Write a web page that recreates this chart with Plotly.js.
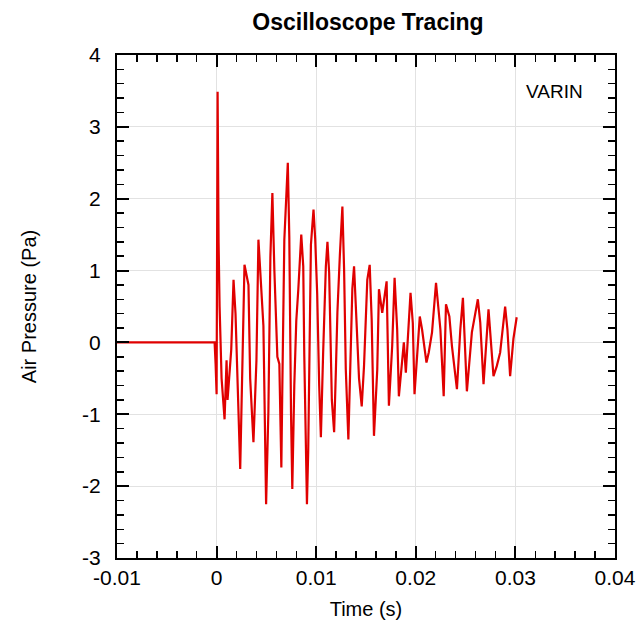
<!DOCTYPE html>
<html>
<head>
<meta charset="utf-8">
<script src="https://cdn.plot.ly/plotly-3.0.1.min.js"></script>
<style>html,body{margin:0;padding:0;background:#fff;}#chart{width:640px;height:632px;}</style>
</head>
<body>
<div id="chart"></div>
<script>
// Time (s)
const timeS = [-0.01, -0.0002, -0.0001, 0.0000, 0.0001, 0.00015, 0.0002, 0.0003, 0.0004, 0.0005,
  0.0008, 0.0010, 0.0011, 0.00147, 0.0017, 0.0019, 0.00237, 0.0028, 0.0032, 0.00337,
  0.0037, 0.0040, 0.0042, 0.0045, 0.0047, 0.00497, 0.0052, 0.0054, 0.0056, 0.0058,
  0.0060, 0.0061, 0.0063, 0.0065, 0.0066, 0.0068, 0.00715, 0.0073, 0.00747, 0.0076,
  0.0078, 0.0080, 0.0082, 0.0085, 0.0087, 0.0088, 0.00907, 0.0092, 0.00947, 0.00973,
  0.0099, 0.0101, 0.0103, 0.01047, 0.0107, 0.01097, 0.01113, 0.0113, 0.01157, 0.0118,
  0.01197, 0.01213, 0.01237, 0.01263, 0.0128, 0.01297, 0.01323, 0.01347, 0.01363, 0.0138,
  0.01403, 0.0143, 0.01457, 0.0148, 0.01513, 0.01537, 0.01557, 0.0158, 0.01613, 0.0163,
  0.01663, 0.01707, 0.0173, 0.01763, 0.01787, 0.01813, 0.0183, 0.01853, 0.0188, 0.0190,
  0.01947, 0.0197, 0.01987, 0.0204, 0.02063, 0.02107, 0.0213, 0.02163, 0.02203, 0.02247,
  0.0228, 0.02303, 0.02337, 0.02363, 0.02413, 0.02447, 0.02473, 0.02513, 0.02563, 0.02623,
  0.02647, 0.0268, 0.0273, 0.0278, 0.02813, 0.02847, 0.02897, 0.0292, 0.02947, 0.0298,
  0.03013];
// Air pressure (Pa)
const pressurePa = [0, 0, -0.3, -0.72, 3.49, 2.3, 1.39, 0.5, -0.03, -0.5,
  -1.07, -0.25, -0.8, -0.1, 0.87, 0.4, -1.76, 1.08, 0.8, -0.5,
  -1.39, -0.25, 1.43, 0.8, 0.23, -2.25, -0.96, 1.19, 2.08, 1.0,
  0.35, -0.2, -0.3, -1.74, -0.6, 1.43, 2.5, 1.46, -0.97, -2.04,
  -0.6, 0.3, 0.73, 1.5, 1.06, -0.16, -2.25, -1.5, 1.36, 1.85,
  1.44, 0.67, -0.6, -1.32, -0.13, 1.06, 1.4, 0.97, -0.8, -1.25,
  -0.42, 0.42, 1.2, 1.89, 1.02, -0.37, -1.35, -0.05, 0.75, 1.06,
  0.42, -0.5, -0.89, -0.33, 0.87, 1.08, 0.32, -1.3, -0.38, 0.74,
  0.41, 0.85, -0.88, -0.05, 0.9, 0.18, -0.75, -0.38, 0.0, -0.42,
  0.69, 0.27, -0.72, 0.36, 0.18, -0.28, -0.14, 0.14, 0.83, 0.18,
  -0.75, 0.53, 0.36, -0.05, -0.65, 0.18, 0.62, -0.68, 0.14, 0.6,
  0.28, -0.58, 0.46, -0.47, -0.33, -0.14, 0.5, 0.18, -0.47, 0.05,
  0.35];

const xTickVals = [-0.01, 0, 0.01, 0.02, 0.03, 0.04];
const xTickText = ["-0.01", "0", "0.01", "0.02", "0.03", "0.04"];
const yTickVals = [-3, -2, -1, 0, 1, 2, 3, 4];
const yTickText = ["-3", "-2", "-1", "0", "1", "2", "3", "4"];

const FONT = "Liberation Sans, Arial, Helvetica, sans-serif";

const trace = {
  x: timeS, y: pressurePa, type: "scatter", mode: "lines",
  line: {color: "#e00000", width: 2.2},
  hoverinfo: "skip"
};

const axisCommon = {
  showline: true, linecolor: "#000", linewidth: 2, mirror: "allticks",
  ticks: "inside", ticklen: 12, tickwidth: 2, tickcolor: "#000",
  showgrid: true, gridcolor: "#e2e2e2", gridwidth: 1,
  zeroline: false,
  tickfont: {family: FONT, size: 21, color: "#000"},
  tickmode: "array"
};

const layout = {
  width: 640, height: 632,
  margin: {l: 117, r: 25, t: 55, b: 74},
  paper_bgcolor: "#fff", plot_bgcolor: "#fff",
  showlegend: false,
  font: {family: FONT, color: "#000"},
  title: {text: "<b>Oscilloscope Tracing</b>", font: {family: FONT, size: 23, color: "#000"},
          x: 0.575, xanchor: "center", xref: "container", y: 0.966, yanchor: "middle", yref: "container"},
  xaxis: Object.assign({}, axisCommon, {
    range: [-0.01, 0.04], tickvals: xTickVals, ticktext: xTickText,
    minor: {dtick: 0.002, tick0: 0, ticks: "inside", ticklen: 7, tickwidth: 1.5, tickcolor: "#000", showgrid: false},
    title: {text: "Time (s)", font: {family: FONT, size: 20, color: "#000"}, standoff: 14}
  }),
  yaxis: Object.assign({}, axisCommon, {
    range: [-3, 4], tickvals: yTickVals, ticktext: yTickText,
    ticklabelstandoff: 10,
    minor: {dtick: 0.2, tick0: 0, ticks: "inside", ticklen: 7, tickwidth: 1.5, tickcolor: "#000", showgrid: false},
    title: {text: "Air Pressure (Pa)", font: {family: FONT, size: 20, color: "#000"}, standoff: 40}
  }),
  annotations: [{
    text: "VARIN", x: 0.0339, y: 3.49, xref: "x", yref: "y",
    showarrow: false, xanchor: "center", yanchor: "middle",
    font: {family: FONT, size: 19, color: "#000"}
  }]
};

Plotly.newPlot("chart", [trace], layout, {displayModeBar: false, staticPlot: true});
</script>
</body>
</html>
